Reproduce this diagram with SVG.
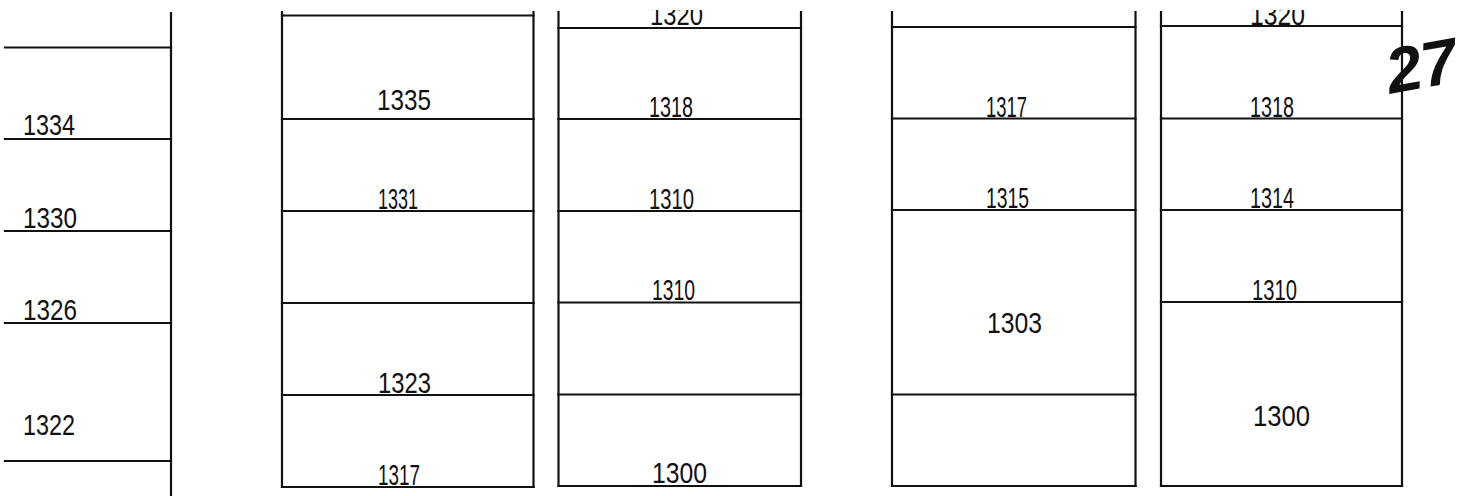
<svg xmlns="http://www.w3.org/2000/svg" width="1470" height="496" viewBox="0 0 1470 496">
<style>
line{stroke:#111;stroke-width:2.2;stroke-linecap:square}
text{font-family:"Liberation Sans",Arial,sans-serif;font-size:30px;fill:#111}
.hw{font-family:"Liberation Sans",Arial,sans-serif;font-weight:bold;font-style:italic;font-size:64px}
</style>
<defs>
<clipPath id="topclip"><rect x="0" y="10" width="1470" height="40"/></clipPath>
</defs>
<g id="scale">
<line x1="171" y1="13" x2="171" y2="496"/>
<line x1="5" y1="47.5" x2="171" y2="47.5"/>
<line x1="5" y1="139" x2="171" y2="139"/>
<line x1="5" y1="231" x2="171" y2="231"/>
<line x1="5" y1="323" x2="171" y2="323"/>
<line x1="5" y1="461" x2="171" y2="461"/>
<text x="23" y="135" textLength="52" lengthAdjust="spacingAndGlyphs">1334</text>
<text x="23" y="228" textLength="54" lengthAdjust="spacingAndGlyphs">1330</text>
<text x="23" y="320" textLength="54" lengthAdjust="spacingAndGlyphs">1326</text>
<text x="23" y="435" textLength="52" lengthAdjust="spacingAndGlyphs">1322</text>
</g>
<g id="column1">
<line x1="282" y1="12" x2="282" y2="487"/>
<line x1="533.5" y1="12" x2="533.5" y2="487"/>
<line x1="282" y1="15.5" x2="533.5" y2="15.5"/>
<line x1="282" y1="119" x2="533.5" y2="119"/>
<line x1="282" y1="211" x2="533.5" y2="211"/>
<line x1="282" y1="303" x2="533.5" y2="303"/>
<line x1="282" y1="395" x2="533.5" y2="395"/>
<line x1="282" y1="487" x2="533.5" y2="487"/>
<text x="377" y="110" textLength="54" lengthAdjust="spacingAndGlyphs">1335</text>
<text x="378" y="209" textLength="40" lengthAdjust="spacingAndGlyphs">1331</text>
<text x="378" y="393" textLength="53" lengthAdjust="spacingAndGlyphs">1323</text>
<text x="378" y="485" textLength="42" lengthAdjust="spacingAndGlyphs">1317</text>
</g>
<g id="column2">
<line x1="558.5" y1="12" x2="558.5" y2="486"/>
<line x1="801" y1="12" x2="801" y2="486"/>
<line x1="558.5" y1="28" x2="801" y2="28"/>
<line x1="558.5" y1="119" x2="801" y2="119"/>
<line x1="558.5" y1="211" x2="801" y2="211"/>
<line x1="558.5" y1="302.5" x2="801" y2="302.5"/>
<line x1="558.5" y1="394.5" x2="801" y2="394.5"/>
<line x1="558.5" y1="486" x2="801" y2="486"/>
<text x="650" y="25" textLength="53" lengthAdjust="spacingAndGlyphs" clip-path="url(#topclip)">1320</text>
<text x="649" y="117" textLength="44" lengthAdjust="spacingAndGlyphs">1318</text>
<text x="649" y="209" textLength="45" lengthAdjust="spacingAndGlyphs">1310</text>
<text x="652" y="300" textLength="43" lengthAdjust="spacingAndGlyphs">1310</text>
<text x="652" y="483" textLength="55" lengthAdjust="spacingAndGlyphs">1300</text>
</g>
<g id="column3">
<line x1="892" y1="12" x2="892" y2="486"/>
<line x1="1135.5" y1="12" x2="1135.5" y2="486"/>
<line x1="892" y1="27" x2="1135.5" y2="27"/>
<line x1="892" y1="118.5" x2="1135.5" y2="118.5"/>
<line x1="892" y1="210" x2="1135.5" y2="210"/>
<line x1="892" y1="394.5" x2="1135.5" y2="394.5"/>
<line x1="892" y1="486" x2="1135.5" y2="486"/>
<text x="986" y="117" textLength="41" lengthAdjust="spacingAndGlyphs">1317</text>
<text x="986" y="208" textLength="43" lengthAdjust="spacingAndGlyphs">1315</text>
<text x="987" y="333" textLength="55" lengthAdjust="spacingAndGlyphs">1303</text>
</g>
<g id="column4">
<line x1="1161" y1="12" x2="1161" y2="486"/>
<line x1="1402" y1="12" x2="1402" y2="486"/>
<line x1="1161" y1="26" x2="1402" y2="26"/>
<line x1="1161" y1="118.5" x2="1402" y2="118.5"/>
<line x1="1161" y1="210" x2="1402" y2="210"/>
<line x1="1161" y1="302" x2="1402" y2="302"/>
<line x1="1161" y1="486" x2="1402" y2="486"/>
<text x="1250" y="25" textLength="55" lengthAdjust="spacingAndGlyphs" clip-path="url(#topclip)">1320</text>
<text x="1250" y="117" textLength="44" lengthAdjust="spacingAndGlyphs">1318</text>
<text x="1250" y="208" textLength="44" lengthAdjust="spacingAndGlyphs">1314</text>
<text x="1252" y="300" textLength="45" lengthAdjust="spacingAndGlyphs">1310</text>
<text x="1253" y="426" textLength="57" lengthAdjust="spacingAndGlyphs">1300</text>
</g>
<g id="annotation">
<text class="hw" x="1384" y="88" transform="rotate(-10 1420 55)">27</text>
</g>
</svg>
